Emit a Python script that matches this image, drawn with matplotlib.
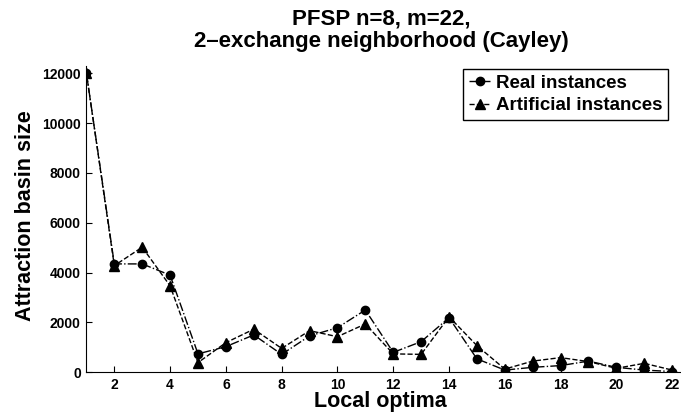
import numpy as np
import matplotlib
matplotlib.use("Agg")
import matplotlib.pyplot as plt

plt.rcParams['font.family'] = ['Liberation Sans', 'DejaVu Sans']
plt.rcParams['font.weight'] = 'bold'

optima = list(range(1, 23))
real = [12000, 4350, 4350, 3900, 740, 1030, 1500, 720, 1460, 1790, 2500,
        800, 1230, 2190, 540, 90, 200, 270, 450, 200, 90, 30]
artificial = [12000, 4280, 5020, 3470, 390, 1190, 1730, 960, 1670, 1430, 1940,
              740, 720, 2230, 1070, 130, 450, 590, 430, 160, 360, 90]
xticks = list(range(2, 23, 2))
yticks = list(range(0, 12001, 2000))

fig = plt.figure(figsize=(6.81, 4.18), dpi=100)
ax = fig.add_axes([0.1269, 0.1093, 0.8716, 0.7333])

ax.plot(optima, real, linestyle='-.', color='k', lw=1, marker='o', ms=6,
        label='Real instances')
ax.plot(optima, artificial, linestyle='--', color='k', lw=1, marker='^', ms=7,
        label='Artificial instances')

ax.set_xlim(1, 22.28)
ax.set_ylim(0, 12300)
ax.set_xticks(xticks)
ax.set_yticks(yticks)
ax.tick_params(direction='in', labelsize=10, length=4, pad=4)
for lab in ax.get_xticklabels() + ax.get_yticklabels():
    lab.set_fontweight('bold')

ax.spines['top'].set_visible(False)
ax.spines['right'].set_visible(False)

ax.set_xlabel('Local optima', fontsize=15.5, fontweight='bold', va='top')
ax.set_ylabel('Attraction basin size', fontsize=15.5, fontweight='bold')
ax.xaxis.set_label_coords(0.495, -0.062)
ax.yaxis.set_label_coords(-0.085, 0.51)

fig.text(0.56, 0.98, 'PFSP n=8, m=22,\n2\u2013exchange neighborhood (Cayley)',
         ha='center', va='top', fontsize=16, fontweight='bold', linespacing=1.12)

leg = ax.legend(loc='upper right', bbox_to_anchor=(0.98, 0.99), fancybox=False,
                edgecolor='k', framealpha=1, handlelength=1.15, handletextpad=0.3,
                borderpad=0.3, labelspacing=0.3, borderaxespad=0,
                prop={'size': 13.5, 'weight': 'bold'})
leg.get_frame().set_linewidth(1)

fig.savefig('out.png', dpi=100)
